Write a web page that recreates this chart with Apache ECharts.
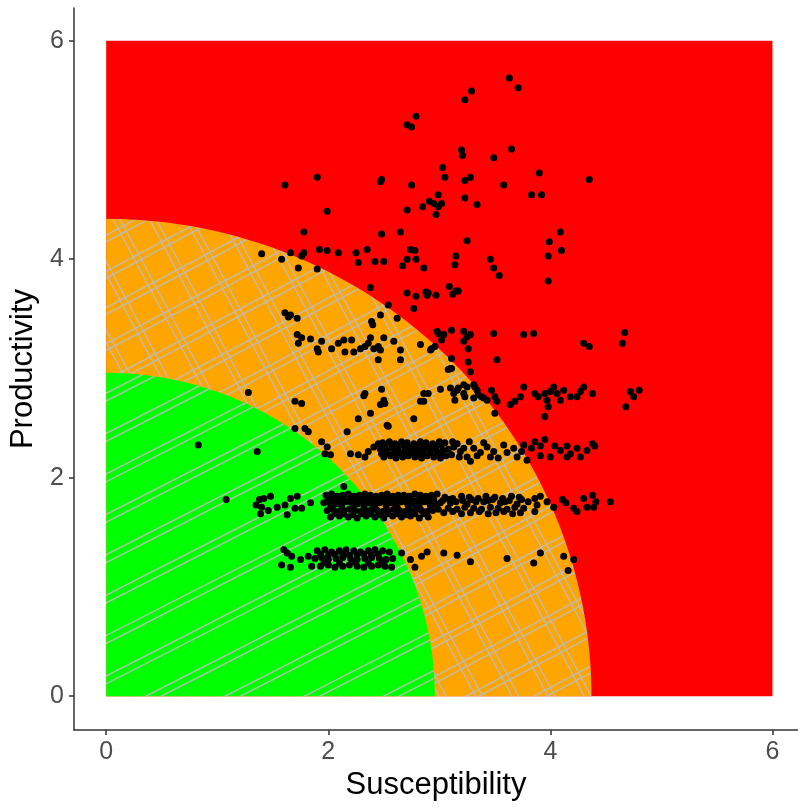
<!DOCTYPE html>
<html>
<head>
<meta charset="utf-8">
<script src="https://cdn.jsdelivr.net/npm/echarts@6/dist/echarts.min.js"></script>
<style>
  html, body { margin: 0; padding: 0; background: #fff; }
  #chart { width: 798px; height: 808px; }
</style>
</head>
<body>
<div id="chart"></div>
<script>
// axes
var tickValues = [0, 2, 4, 6];
var xName = 'Susceptibility';
var yName = 'Productivity';

// risk zones : square 0..6, then quarter circles (orange, green)
var zoneSize = [6, 4.37, 2.96];
var zoneColors = ['#FF0000', '#FFA500', '#00FF00'];

// points (susceptibility, productivity)
var scattered = [
  [3.63,5.66],[3.71,5.57],[3.29,5.54],[3.23,5.46],[2.79,5.31],[2.71,5.23],[2.75,5.21],
  [3.65,5.01],[3.20,5.00],[3.21,4.95],[3.49,4.93],[3.03,4.84],[3.90,4.79],[1.90,4.75],[1.61,4.68],
  [2.48,4.73],[2.47,4.71],[3.05,4.75],[3.28,4.75],[3.23,4.72],[2.75,4.68],[3.58,4.68],[4.35,4.73],
  [3.83,4.59],[3.92,4.59],[2.99,4.59],[3.23,4.56],[2.91,4.53],[2.95,4.51],[3.02,4.51],[2.99,4.48],
  [2.97,4.41],[2.85,4.48],[2.71,4.45],[3.34,4.50],[1.99,4.44],[1.78,4.25],[2.48,4.23],[2.65,4.25],
  [4.09,4.25],[3.25,4.17],[3.99,4.16],[4.10,4.08],[3.98,4.03],[1.66,4.06],[1.78,4.06],[1.76,4.03],
  [1.92,4.09],[1.99,4.08],[2.09,4.06],[2.25,4.06],[2.35,4.09],[2.74,4.09],[2.78,4.08],[3.15,4.03],
  [1.58,4.00],[1.40,4.05],[2.27,3.97],[2.42,3.98],[2.50,3.98],[2.71,4.00],[2.79,4.00],[2.67,3.94],
  [2.86,3.92],[3.14,3.95],[3.46,4.00],[3.49,3.92],[3.54,3.85],[3.98,3.80],[1.73,3.92],[1.90,3.91],
  [2.38,3.74],[2.71,3.69],[2.79,3.66],[2.88,3.70],[2.90,3.69],[2.89,3.67],[2.97,3.67],[3.09,3.75],
  [3.12,3.68],[3.15,3.71],[3.17,3.71],[2.54,3.58],[2.77,3.55],
  [1.61,3.51],[1.64,3.47],[1.66,3.49],[1.72,3.46],[2.39,3.43],[2.40,3.40],[2.47,3.49],[2.62,3.46],
  [1.72,3.31],[1.76,3.28],[1.73,3.23],[1.84,3.27],[1.90,3.18],[1.91,3.15],[1.94,3.25],[2.03,3.18],
  [2.09,3.23],[2.14,3.26],[2.15,3.15],[2.21,3.26],[2.23,3.15],[2.29,3.18],[2.33,3.20],[2.36,3.23],
  [2.38,3.28],[2.41,3.18],[2.45,3.20],[2.47,3.17],[2.50,3.28],[2.45,3.08],[2.59,3.25],[2.65,3.17],
  [2.65,3.08],[2.83,3.22],[2.92,3.17],[2.98,3.34],[3.04,3.31],[3.11,3.35],[3.22,3.34],[3.25,3.29],
  [3.26,3.18],[3.22,3.25],[3.02,3.26],[2.99,3.32],[3.28,3.31],[2.93,3.18],[2.96,3.20],[3.49,3.32],
  [3.76,3.31],[3.85,3.32],[4.67,3.33],[4.65,3.23],[4.30,3.23],[4.35,3.20],[3.52,3.08],[3.11,3.09],
  [3.10,3.00],[3.08,2.99],[3.11,3.00],[3.26,3.06],[3.28,2.97],
  [1.28,2.78],[1.70,2.70],[1.76,2.68],[2.33,2.77],[2.32,2.75],[2.48,2.81],[2.50,2.71],[2.47,2.67],
  [2.51,2.68],[2.38,2.59],[2.27,2.54],[2.53,2.48],[2.54,2.47],[2.17,2.42],[1.70,2.45],[1.79,2.45],
  [1.82,2.42],[2.77,2.54],[2.86,2.77],[2.86,2.70],[3.01,2.81],[3.10,2.82],[3.13,2.77],[3.16,2.80],
  [3.22,2.77],[3.23,2.74],[3.31,2.85],[3.34,2.80],[3.25,2.83],[3.38,2.74],[2.83,2.70],[2.90,2.77],
  [3.14,2.71],[3.17,2.82],[3.22,2.85],[3.32,2.83],[3.31,2.73],[3.35,2.76],[3.40,2.73],[3.43,2.71],
  [3.47,2.80],[3.50,2.74],[3.52,2.70],[3.50,2.59],[3.64,2.67],[3.68,2.70],[3.73,2.74],[3.76,2.83],
  [3.86,2.77],[3.89,2.74],[3.95,2.77],[3.97,2.71],[4.00,2.79],[4.03,2.83],[4.06,2.77],[4.09,2.71],
  [4.12,2.80],[3.98,2.65],[3.95,2.56],[4.18,2.74],[4.24,2.74],[4.27,2.79],[4.30,2.83],[4.38,2.77],
  [4.72,2.79],[4.75,2.74],[4.80,2.80],[4.68,2.65],
  [0.83,2.30],[1.36,2.24],[1.08,1.80],[2.14,1.92]
];

var bandHigh = [
  [1.94,2.33],[1.99,2.28],[1.97,2.22],[2.02,2.21],[2.20,2.22],[2.27,2.21],[2.33,2.19],[2.36,2.24],[2.41,2.28],[2.45,2.31],
  [2.49,2.32],[2.55,2.33],[2.60,2.31],[2.66,2.33],[2.71,2.32],[2.77,2.31],[2.83,2.33],[2.88,2.32],[2.94,2.31],[3.00,2.33],[3.05,2.32],
  [2.51,2.29],[2.57,2.28],[2.62,2.29],[2.68,2.30],[2.73,2.28],[2.79,2.29],[2.85,2.30],[2.90,2.28],[2.96,2.29],[3.02,2.30],
  [2.47,2.26],[2.52,2.25],[2.58,2.27],[2.63,2.26],[2.69,2.25],[2.74,2.27],[2.80,2.26],[2.85,2.25],[2.91,2.26],[2.97,2.27],[3.03,2.25],[3.08,2.26],
  [2.48,2.22],[2.59,2.22],[2.70,2.23],[2.81,2.22],[2.92,2.23],[3.03,2.22],
  [2.50,2.19],[2.56,2.20],[2.61,2.18],[2.67,2.19],[2.72,2.20],[2.78,2.19],[2.84,2.18],[2.89,2.20],[2.95,2.19],[3.01,2.18],[3.06,2.20],
  [2.53,2.23],[2.64,2.22],[2.75,2.23],[2.86,2.22],[2.98,2.23],
  [3.11,2.21],[3.16,2.31],[3.22,2.27],[3.27,2.33],[3.34,2.20],[3.40,2.32],[3.46,2.19],[3.12,2.33],[3.18,2.19],
  [3.13,2.28],[3.19,2.24],[3.25,2.19],[3.28,2.15],[3.31,2.27],[3.37,2.23],[3.43,2.28],[3.49,2.24],[3.53,2.18],[3.58,2.30],
  [3.61,2.23],[3.67,2.27],[3.70,2.19],[3.74,2.24],[3.76,2.30],[3.79,2.16],
  [3.83,2.27],[3.86,2.33],[3.91,2.29],[3.95,2.35],[4.04,2.29],[4.09,2.25],[4.15,2.29],[4.18,2.22],[4.24,2.27],[4.27,2.19],
  [4.33,2.25],[4.38,2.31],[4.40,2.29],[3.91,2.20],[4.00,2.19],[4.15,2.19]
];

var bandMid = [
  [1.35,1.75],[1.38,1.80],[1.40,1.73],[1.39,1.67],[1.42,1.81],[1.46,1.70],[1.48,1.83],[1.54,1.73],[1.61,1.75],[1.63,1.66],
  [1.66,1.81],[1.70,1.72],[1.72,1.83],[1.76,1.72],[1.84,1.77],
  [1.98,1.84],[2.03,1.85],[2.08,1.83],[2.13,1.84],[2.18,1.85],[2.23,1.83],[2.28,1.84],[2.33,1.85],[2.38,1.84],[2.43,1.83],
  [2.48,1.84],[2.53,1.85],[2.58,1.83],[2.63,1.84],[2.68,1.84],[2.73,1.83],[2.78,1.85],[2.83,1.84],[2.88,1.83],[2.93,1.84],[2.98,1.85],
  [2.00,1.80],[2.05,1.81],[2.10,1.80],[2.15,1.79],[2.20,1.81],[2.25,1.80],[2.30,1.80],[2.35,1.81],[2.40,1.79],[2.45,1.80],
  [2.50,1.81],[2.55,1.80],[2.60,1.79],[2.65,1.80],[2.70,1.81],[2.75,1.80],[2.80,1.79],[2.85,1.80],[2.90,1.81],[2.95,1.80],
  [1.96,1.77],[2.01,1.78],[2.06,1.76],[2.11,1.77],[2.16,1.78],[2.21,1.77],[2.26,1.76],[2.31,1.78],[2.36,1.77],[2.41,1.76],
  [2.46,1.77],[2.51,1.78],[2.56,1.77],[2.61,1.76],[2.66,1.78],[2.71,1.77],[2.76,1.76],[2.81,1.77],[2.86,1.78],[2.91,1.77],[2.96,1.76],[3.01,1.77],
  [2.02,1.73],[2.12,1.74],[2.22,1.73],[2.32,1.74],[2.42,1.73],[2.52,1.74],[2.62,1.73],[2.72,1.74],[2.82,1.73],[2.92,1.74],
  [1.99,1.70],[2.04,1.71],[2.09,1.69],[2.14,1.70],[2.19,1.71],[2.24,1.70],[2.29,1.69],[2.34,1.70],[2.39,1.71],[2.44,1.70],
  [2.49,1.69],[2.54,1.70],[2.59,1.71],[2.64,1.70],[2.69,1.69],[2.74,1.70],[2.79,1.71],[2.84,1.70],[2.89,1.69],[2.94,1.70],[2.99,1.71],
  [2.06,1.67],[2.14,1.67],[2.22,1.66],[2.30,1.67],[2.38,1.67],[2.46,1.66],[2.54,1.67],[2.62,1.67],[2.70,1.66],[2.78,1.67],[2.86,1.67],
  [2.02,1.64],[2.10,1.65],[2.18,1.64],[2.26,1.63],[2.34,1.65],[2.42,1.64],[2.50,1.63],[2.58,1.65],[2.66,1.64],[2.74,1.65],[2.82,1.63],[2.90,1.64],
  [3.05,1.82],[3.12,1.81],[3.20,1.83],[3.27,1.82],[3.35,1.81],[3.42,1.83],[3.50,1.82],[3.57,1.81],[3.65,1.83],[3.72,1.82],
  [3.03,1.79],[3.09,1.80],[3.15,1.78],[3.21,1.79],[3.29,1.80],[3.33,1.78],[3.44,1.79],[3.48,1.80],[3.59,1.78],[3.63,1.79],[3.74,1.80],[3.80,1.78],
  [3.08,1.72],[3.16,1.71],[3.23,1.73],[3.31,1.72],[3.38,1.71],[3.46,1.73],[3.53,1.72],[3.61,1.71],[3.68,1.73],[3.76,1.72],
  [3.04,1.68],[3.12,1.69],[3.20,1.67],[3.28,1.68],[3.36,1.69],[3.44,1.67],[3.51,1.68],[3.58,1.69],[3.66,1.67],[3.73,1.68],
  [3.10,1.77],[3.25,1.76],[3.40,1.78],[3.55,1.77],[3.70,1.76],
  [3.86,1.81],[3.91,1.83],[3.88,1.75],[3.86,1.69],[3.97,1.78],[4.03,1.73],[4.11,1.80],[4.14,1.77],[4.21,1.72],[4.24,1.69],
  [4.30,1.81],[4.33,1.73],[4.38,1.84],[4.41,1.78],[4.39,1.73],[4.54,1.78]
];

var bandLow = [
  [1.60,1.34],[1.63,1.31],[1.67,1.28],[1.58,1.20],[1.66,1.18],[1.75,1.25],[1.82,1.28],[1.85,1.19],
  [1.90,1.33],[1.97,1.34],[2.03,1.32],[2.10,1.33],[2.16,1.34],[2.23,1.33],[2.29,1.32],[2.36,1.33],[2.42,1.34],[2.49,1.33],[2.55,1.32],
  [1.93,1.30],[2.00,1.29],[2.06,1.30],[2.13,1.30],[2.19,1.29],[2.26,1.30],[2.32,1.30],[2.39,1.29],[2.45,1.30],
  [1.88,1.26],[1.94,1.27],[2.00,1.25],[2.07,1.26],[2.13,1.27],[2.20,1.26],[2.26,1.25],[2.33,1.26],[2.39,1.27],[2.46,1.26],[2.52,1.25],[2.58,1.26],
  [1.96,1.22],[2.10,1.22],[2.23,1.23],[2.36,1.22],[2.49,1.22],
  [1.93,1.19],[2.00,1.20],[2.06,1.18],[2.13,1.19],[2.19,1.20],[2.26,1.19],[2.32,1.18],[2.39,1.19],[2.45,1.20],[2.51,1.19],[2.57,1.18],
  [2.66,1.31],[2.74,1.25],[2.78,1.18],[2.84,1.28],[2.89,1.32],[3.04,1.31],[3.16,1.29],[3.28,1.23],[3.61,1.26],[3.85,1.22],
  [3.91,1.31],[4.12,1.28],[4.21,1.25],[4.16,1.15]
];

// hatch texture: background colour + paired grey stripes
function hatch(bg, angles, period, pair) {
  var c = document.createElement('canvas');
  c.width = 800; c.height = 810;
  var g = c.getContext('2d');
  g.fillStyle = bg;
  g.fillRect(0, 0, c.width, c.height);
  g.strokeStyle = '#bcbcbc';
  g.lineWidth = 1.3;
  angles.forEach(function (a) {
    var t = a * Math.PI / 180;
    var dx = Math.cos(t), dy = -Math.sin(t);
    var nx = -dy, ny = dx;
    for (var k = -40; k <= 40; k++) {
      [0, pair].forEach(function (o) {
        var s = k * period + o;
        var cx = 400 + nx * s, cy = 405 + ny * s;
        g.beginPath();
        g.moveTo(cx - dx * 1200, cy - dy * 1200);
        g.lineTo(cx + dx * 1200, cy + dy * 1200);
        g.stroke();
      });
    }
  });
  return c;
}

var zoneFill = [
  zoneColors[0],
  { image: hatch(zoneColors[1], [28, -62], 32, 6), repeat: 'no-repeat' },
  { image: hatch(zoneColors[2], [27], 36, 7), repeat: 'no-repeat' }
];

var chart = echarts.init(document.getElementById('chart'));

var axisLineStyle = { color: '#333333', width: 1.5 };

chart.setOption({
  animation: false,
  grid: { left: 74, right: 0, top: 8, bottom: 78, outerBoundsMode: 'none' },
  xAxis: {
    type: 'value', min: -0.29, max: 6.23,
    name: xName, nameLocation: 'middle', nameGap: 38,
    nameTextStyle: { color: '#000', fontSize: 31, fontFamily: 'Liberation Sans, Arial' },
    axisLine: { show: true, onZero: false, lineStyle: axisLineStyle },
    axisTick: { show: true, customValues: tickValues, length: 5, lineStyle: axisLineStyle },
    axisLabel: { customValues: tickValues, margin: 10, color: '#4D4D4D', fontSize: 25, fontFamily: 'Liberation Sans, Arial' },
    splitLine: { show: false }
  },
  yAxis: {
    type: 'value', min: -0.31, max: 6.3,
    name: yName, nameLocation: 'middle', nameGap: 30,
    nameTextStyle: { color: '#000', fontSize: 31, fontFamily: 'Liberation Sans, Arial' },
    axisLine: { show: true, onZero: false, lineStyle: axisLineStyle },
    axisTick: { show: true, customValues: tickValues, length: 5, lineStyle: axisLineStyle },
    axisLabel: { customValues: tickValues, margin: 10, color: '#4D4D4D', fontSize: 25, fontFamily: 'Liberation Sans, Arial' },
    splitLine: { show: false }
  },
  series: [
    {
      type: 'custom',
      silent: true,
      data: zoneSize.map(function (s, i) { return [s, i]; }),
      renderItem: function (params, api) {
        var r = api.value(0);
        var i = api.value(1);
        var pts = [];
        if (i === 0) {
          pts = [api.coord([0, 0]), api.coord([r, 0]), api.coord([r, r]), api.coord([0, r])];
        } else {
          pts.push(api.coord([0, 0]));
          for (var a = 0; a <= 90; a += 1) {
            var t = a * Math.PI / 180;
            pts.push(api.coord([r * Math.cos(t), r * Math.sin(t)]));
          }
        }
        return { type: 'polygon', shape: { points: pts }, style: { fill: zoneFill[i], stroke: null } };
      },
      z: 1
    },
    {
      type: 'scatter',
      data: scattered.concat(bandHigh, bandMid, bandLow),
      symbol: 'circle',
      symbolSize: 7,
      itemStyle: { color: '#000', opacity: 1 },
      z: 5
    }
  ]
});
</script>
</body>
</html>
